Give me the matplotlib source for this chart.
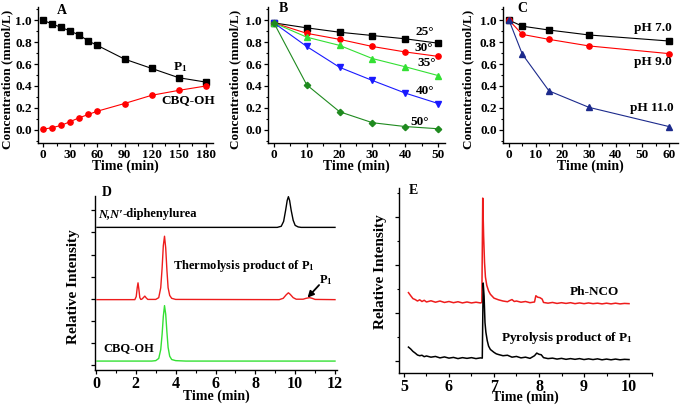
import numpy as np
import matplotlib
matplotlib.use("Agg")
import matplotlib.pyplot as plt
from matplotlib.ticker import MultipleLocator, NullFormatter, FormatStrFormatter

plt.rcParams['font.family'] = ['Liberation Serif', 'DejaVu Serif']
plt.rcParams['font.weight'] = 'bold'
plt.rcParams['axes.labelweight'] = 'bold'
plt.rcParams['mathtext.fontset'] = 'custom'
plt.rcParams['mathtext.rm'] = 'Liberation Serif:bold'
plt.rcParams['mathtext.bf'] = 'Liberation Serif:bold'
plt.rcParams['mathtext.it'] = 'Liberation Serif:italic:bold'

# ---- panel A data
a_t = [0, 10, 20, 30, 40, 50, 60, 90, 120, 150, 180]
a_p1 = [1.0, 0.965, 0.935, 0.90, 0.865, 0.81, 0.77, 0.645, 0.56, 0.475, 0.435]
a_cbq = [0.005, 0.02, 0.04, 0.075, 0.11, 0.14, 0.17, 0.24, 0.315, 0.36, 0.40]

# ---- panel B data (temperature)
b_t = [0, 10, 20, 30, 40, 50]
b_25 = [0.975, 0.93, 0.89, 0.86, 0.83, 0.79]
b_30 = [0.975, 0.88, 0.825, 0.76, 0.71, 0.67]
b_35 = [0.975, 0.845, 0.77, 0.65, 0.575, 0.495]
b_40 = [0.975, 0.76, 0.57, 0.45, 0.335, 0.24]
b_50 = [0.975, 0.41, 0.165, 0.065, 0.03, 0.01]

# ---- panel C data (pH)
c_t = [0, 5, 15, 30, 60]
c_ph7 = [1.0, 0.945, 0.91, 0.865, 0.81]
c_ph9 = [1.0, 0.87, 0.825, 0.765, 0.695]
c_ph11 = [1.0, 0.69, 0.355, 0.205, 0.03]

# ---- panel D chromatograms (time, relative intensity)
d_urea_t = [0.05, 9.1, 9.3, 9.42, 9.52, 9.6, 9.66, 9.72, 9.8, 9.9, 10.0, 10.15, 10.3, 12.0]
d_urea_y = [6.23, 6.23, 6.28, 6.5, 7.0, 7.45, 7.62, 7.45, 7.0, 6.55, 6.32, 6.25, 6.23, 6.23]
d_thermo_t = [0.05, 1.95, 2.02, 2.07, 2.11, 2.15, 2.2, 2.25, 2.3, 2.38, 2.45, 2.52, 2.6,
              3.0, 3.15, 3.25, 3.32, 3.38, 3.44, 3.5, 3.56, 3.62, 3.7, 3.8, 4.0,
              9.2, 9.4, 9.55, 9.66, 9.75, 9.9, 10.05, 10.4, 10.55, 10.72, 10.85, 11.0, 12.0]
d_thermo_y = [2.96, 2.96, 3.1, 3.5, 3.72, 3.45, 3.05, 2.97, 2.98, 3.05, 3.12, 3.04, 2.97,
              2.97, 3.05, 3.5, 4.4, 5.4, 5.83, 5.3, 4.3, 3.5, 3.15, 3.02, 2.97,
              2.96, 3.02, 3.18, 3.27, 3.2, 3.05, 2.98, 2.98, 3.02, 3.05, 3.02, 2.97, 2.96]
d_cbq_t = [0.05, 2.8, 3.0, 3.15, 3.25, 3.32, 3.38, 3.44, 3.5, 3.56, 3.62, 3.7, 3.8, 4.0, 4.5, 12.0]
d_cbq_y = [0.18, 0.18, 0.2, 0.3, 0.7, 1.4, 2.2, 2.69, 2.3, 1.5, 0.8, 0.4, 0.25, 0.2, 0.18, 0.18]

# ---- panel E GC traces
e_nco_t = [5.10, 5.15, 5.2, 5.25, 5.3, 5.35, 5.4, 5.45, 5.5, 5.6, 5.7, 5.8, 5.9, 6.0, 6.1, 6.2,
           6.3, 6.4, 6.5, 6.6, 6.7, 6.73, 6.75, 6.77, 6.79, 6.81, 6.84, 6.88, 6.92, 6.97, 7.0,
           7.1, 7.2, 7.3, 7.35, 7.4, 7.45, 7.5, 7.6, 7.7, 7.8, 7.9, 7.93, 7.97, 8.02, 8.07, 8.1,
           8.2, 8.3, 8.4, 8.5, 8.6, 8.7, 8.8, 8.9, 9.0, 9.1, 9.2, 9.3, 9.4, 9.5, 9.6, 9.7, 9.8,
           9.9, 10.0]
e_nco_y = [2.85, 2.72, 2.60, 2.56, 2.50, 2.55, 2.48, 2.53, 2.46, 2.51, 2.45, 2.50, 2.44, 2.48,
           2.43, 2.47, 2.42, 2.46, 2.42, 2.45, 2.42, 2.44, 6.79, 5.2, 4.1, 3.5, 3.15, 2.92,
           2.78, 2.68, 2.62, 2.55, 2.50, 2.47, 2.52, 2.56, 2.48, 2.50, 2.45, 2.48, 2.43, 2.46,
           2.72, 2.66, 2.64, 2.58, 2.44, 2.41, 2.44, 2.40, 2.43, 2.40, 2.43, 2.39, 2.42, 2.39,
           2.42, 2.39, 2.41, 2.38, 2.41, 2.38, 2.41, 2.38, 2.40, 2.39]
e_pyro_t = [5.10, 5.15, 5.2, 5.25, 5.3, 5.35, 5.4, 5.45, 5.5, 5.6, 5.7, 5.8, 5.9, 6.0, 6.1, 6.2,
            6.3, 6.4, 6.5, 6.6, 6.7, 6.74, 6.76, 6.78, 6.80, 6.82, 6.85, 6.88, 6.92, 6.96, 7.0,
            7.05, 7.1, 7.2, 7.3, 7.4, 7.5, 7.6, 7.7, 7.8, 7.9, 7.95, 8.0, 8.05, 8.1, 8.2, 8.3,
            8.4, 8.5, 8.6, 8.7, 8.8, 8.9, 9.0, 9.1, 9.2, 9.3, 9.4, 9.5, 9.6, 9.7, 9.8, 9.9, 10.0]
e_pyro_y = [0.58, 0.50, 0.40, 0.33, 0.25, 0.22, 0.24, 0.18, 0.21, 0.16, 0.19, 0.13, 0.17, 0.12,
            0.15, 0.10, 0.14, 0.11, 0.14, 0.10, 0.13, 0.12, 3.25, 2.7, 1.6, 1.2, 0.85, 0.62,
            0.48, 0.42, 0.36, 0.30, 0.27, 0.22, 0.24, 0.16, 0.19, 0.13, 0.16, 0.11, 0.22, 0.33,
            0.28, 0.26, 0.14, 0.10, 0.12, 0.08, 0.11, 0.07, 0.10, 0.07, 0.10, 0.06, 0.09, 0.06,
            0.09, 0.05, 0.08, 0.05, 0.08, 0.05, 0.07, 0.06]

W, H = 680.0, 405.0


def px_axes(fig, left, top, right, bottom):
    return fig.add_axes([left / W, 1 - bottom / H, (right - left) / W, (bottom - top) / H])


def style(ax, fs):
    for s in ['top', 'right']:
        ax.spines[s].set_visible(False)
    for s in ['left', 'bottom']:
        ax.spines[s].set_linewidth(1.0)
    ax.tick_params(which='major', direction='out', length=3, width=0.9, labelsize=fs, pad=1.5)
    ax.tick_params(which='minor', direction='out', length=1.8, width=0.8)
    for lab in ax.get_xticklabels() + ax.get_yticklabels():
        lab.set_fontweight('bold')


def conc_axes(ax, xmaj, xmin_, xlim, ylab_x):
    ax.set_xlim(*xlim)
    ax.set_ylim(-0.12, 1.12)
    ax.xaxis.set_major_locator(MultipleLocator(xmaj))
    ax.xaxis.set_minor_locator(MultipleLocator(xmin_))
    ax.yaxis.set_major_locator(MultipleLocator(0.2))
    ax.yaxis.set_minor_locator(MultipleLocator(0.1))
    ax.yaxis.set_major_formatter(FormatStrFormatter('%.1f'))
    style(ax, 9.5)
    ax.set_xlabel('Time (min)', fontsize=10)
    ax.xaxis.set_label_coords(0.5, -0.12)
    ax.set_ylabel('Concentration (mmol/L)', fontsize=9.5)
    ax.yaxis.set_label_coords(ylab_x, 0.47)


fig = plt.figure(figsize=(6.8, 4.05), dpi=100)

lw = 0.8
ms = 3.8

# ---------- A
ax = px_axes(fig, 38, 7, 213, 143)
ax.plot(a_t, a_p1, '-s', color='black', lw=lw, ms=ms)
ax.plot(a_t, a_cbq, '-o', color='red', lw=lw, ms=ms)
conc_axes(ax, 30, 15, (-5.5, 187.7), -0.14)
ax.text(151, 0.57, r'P$_{1}$', fontsize=9.5, ha='center', va='center')
ax.text(160, 0.274, 'CBQ-OH', fontsize=9.5, ha='center', va='center')
fig.text(62 / W, 1 - 10 / H, 'A', fontsize=10, ha='center', va='center')

# ---------- B
ax = px_axes(fig, 268, 7, 445, 143)
ax.plot(b_t, b_25, '-s', color='black', lw=lw, ms=ms)
ax.plot(b_t, b_30, '-o', color='red', lw=lw, ms=ms)
ax.plot(b_t, b_35, '-^', color='#33e033', lw=lw, ms=ms)
ax.plot(b_t, b_40, '-v', color='#1a1aff', lw=lw, ms=ms)
ax.plot(b_t, b_50, '-D', color='#1f8a1f', lw=lw, ms=ms * 0.85)
conc_axes(ax, 10, 5, (-1.8, 52.1), -0.15)
for txt, x, y in [('25°', 46, 0.895), ('30°', 45.7, 0.75), ('35°', 46.6, 0.61),
                  ('40°', 46, 0.356), ('50°', 44.5, 0.073)]:
    ax.text(x, y, txt, fontsize=9.5, ha='center', va='center')
fig.text(283 / W, 1 - 8 / H, 'B', fontsize=10, ha='center', va='center')

# ---------- C
ax = px_axes(fig, 503, 7, 678, 143)
ax.plot(c_t, c_ph7, '-s', color='black', lw=lw, ms=ms)
ax.plot(c_t, c_ph9, '-o', color='red', lw=lw, ms=ms)
ax.plot(c_t, c_ph11, '-^', color='#1c2a8c', lw=lw, ms=ms)
conc_axes(ax, 10, 5, (-2.25, 63.4), -0.165)
for txt, x, y in [('pH 7.0', 54, 0.93), ('pH 9.0', 54, 0.62), ('pH 11.0', 53.6, 0.20)]:
    ax.text(x, y, txt, fontsize=9.5, ha='center', va='center')
fig.text(522 / W, 1 - 8 / H, 'C', fontsize=10, ha='center', va='center')

# ---------- D
ax = px_axes(fig, 95, 196, 337, 370)
ax.plot(d_urea_t, d_urea_y, color='black', lw=1.0)
ax.plot(d_thermo_t, d_thermo_y, color='#ee1c1c', lw=1.0)
ax.plot(d_cbq_t, d_cbq_y, color='#33e033', lw=1.0)
ax.set_xlim(-0.05, 12.1)
ax.set_ylim(-0.224, 7.65)
ax.xaxis.set_major_locator(MultipleLocator(2))
ax.xaxis.set_minor_locator(MultipleLocator(1))
ax.yaxis.set_major_locator(MultipleLocator(1))
ax.yaxis.set_major_formatter(NullFormatter())
style(ax, 11.5)
ax.set_xlabel('Time (min)', fontsize=10)
ax.xaxis.set_label_coords(0.5, -0.115)
ax.set_ylabel('Relative Intensity', fontsize=11)
ax.yaxis.set_label_coords(-0.062, 0.48)
t1 = ax.text(0.1, 6.82, 'N,N\u2032', fontsize=9, style='italic', ha='left', va='center')
ax.annotate('-diphenylurea', xy=(1, 0), xycoords=t1, fontsize=9, ha='left', va='bottom')
ax.text(3.85, 4.48, r'Thermolysis product of P$_{1}$', fontsize=9, ha='left', va='center')
ax.text(0.35, 0.76, 'CBQ-OH', fontsize=9, ha='left', va='center')
ax.text(11.55, 3.85, r'P$_{1}$', fontsize=9, ha='center', va='center')
ax.annotate('', xy=(10.62, 3.05), xytext=(11.2, 3.62),
            arrowprops=dict(arrowstyle='-|>', color='black', lw=1.3, shrinkA=0, shrinkB=0,
                            mutation_scale=9))
fig.text(107 / W, 1 - 192 / H, 'D', fontsize=10, ha='center', va='center')

# ---------- E
ax = px_axes(fig, 399, 188, 652, 373)
ax.plot(e_nco_t, e_nco_y, color='#ee1c1c', lw=1.1)
ax.plot(e_pyro_t, e_pyro_y, color='black', lw=1.1)
ax.set_xlim(4.89, 10.51)
ax.set_ylim(-0.5, 7.21)
ax.xaxis.set_major_locator(MultipleLocator(1))
ax.xaxis.set_minor_locator(MultipleLocator(0.5))
ax.yaxis.set_major_locator(MultipleLocator(2))
ax.yaxis.set_minor_locator(MultipleLocator(1))
ax.yaxis.set_major_formatter(NullFormatter())
style(ax, 11.5)
ax.set_xlabel('Time (min)', fontsize=10)
ax.xaxis.set_label_coords(0.5, -0.095)
ax.set_ylabel('Relative Intensity', fontsize=11)
ax.yaxis.set_label_coords(-0.047, 0.55)
ax.text(9.24, 2.88, 'Ph-NCO', fontsize=9.5, ha='center', va='center')
ax.text(8.62, 0.96, r'Pyrolysis product of P$_{1}$', fontsize=9.5, ha='center', va='center')
fig.text(413 / W, 1 - 190 / H, 'E', fontsize=10, ha='center', va='center')

fig.savefig('out.png', dpi=100)
